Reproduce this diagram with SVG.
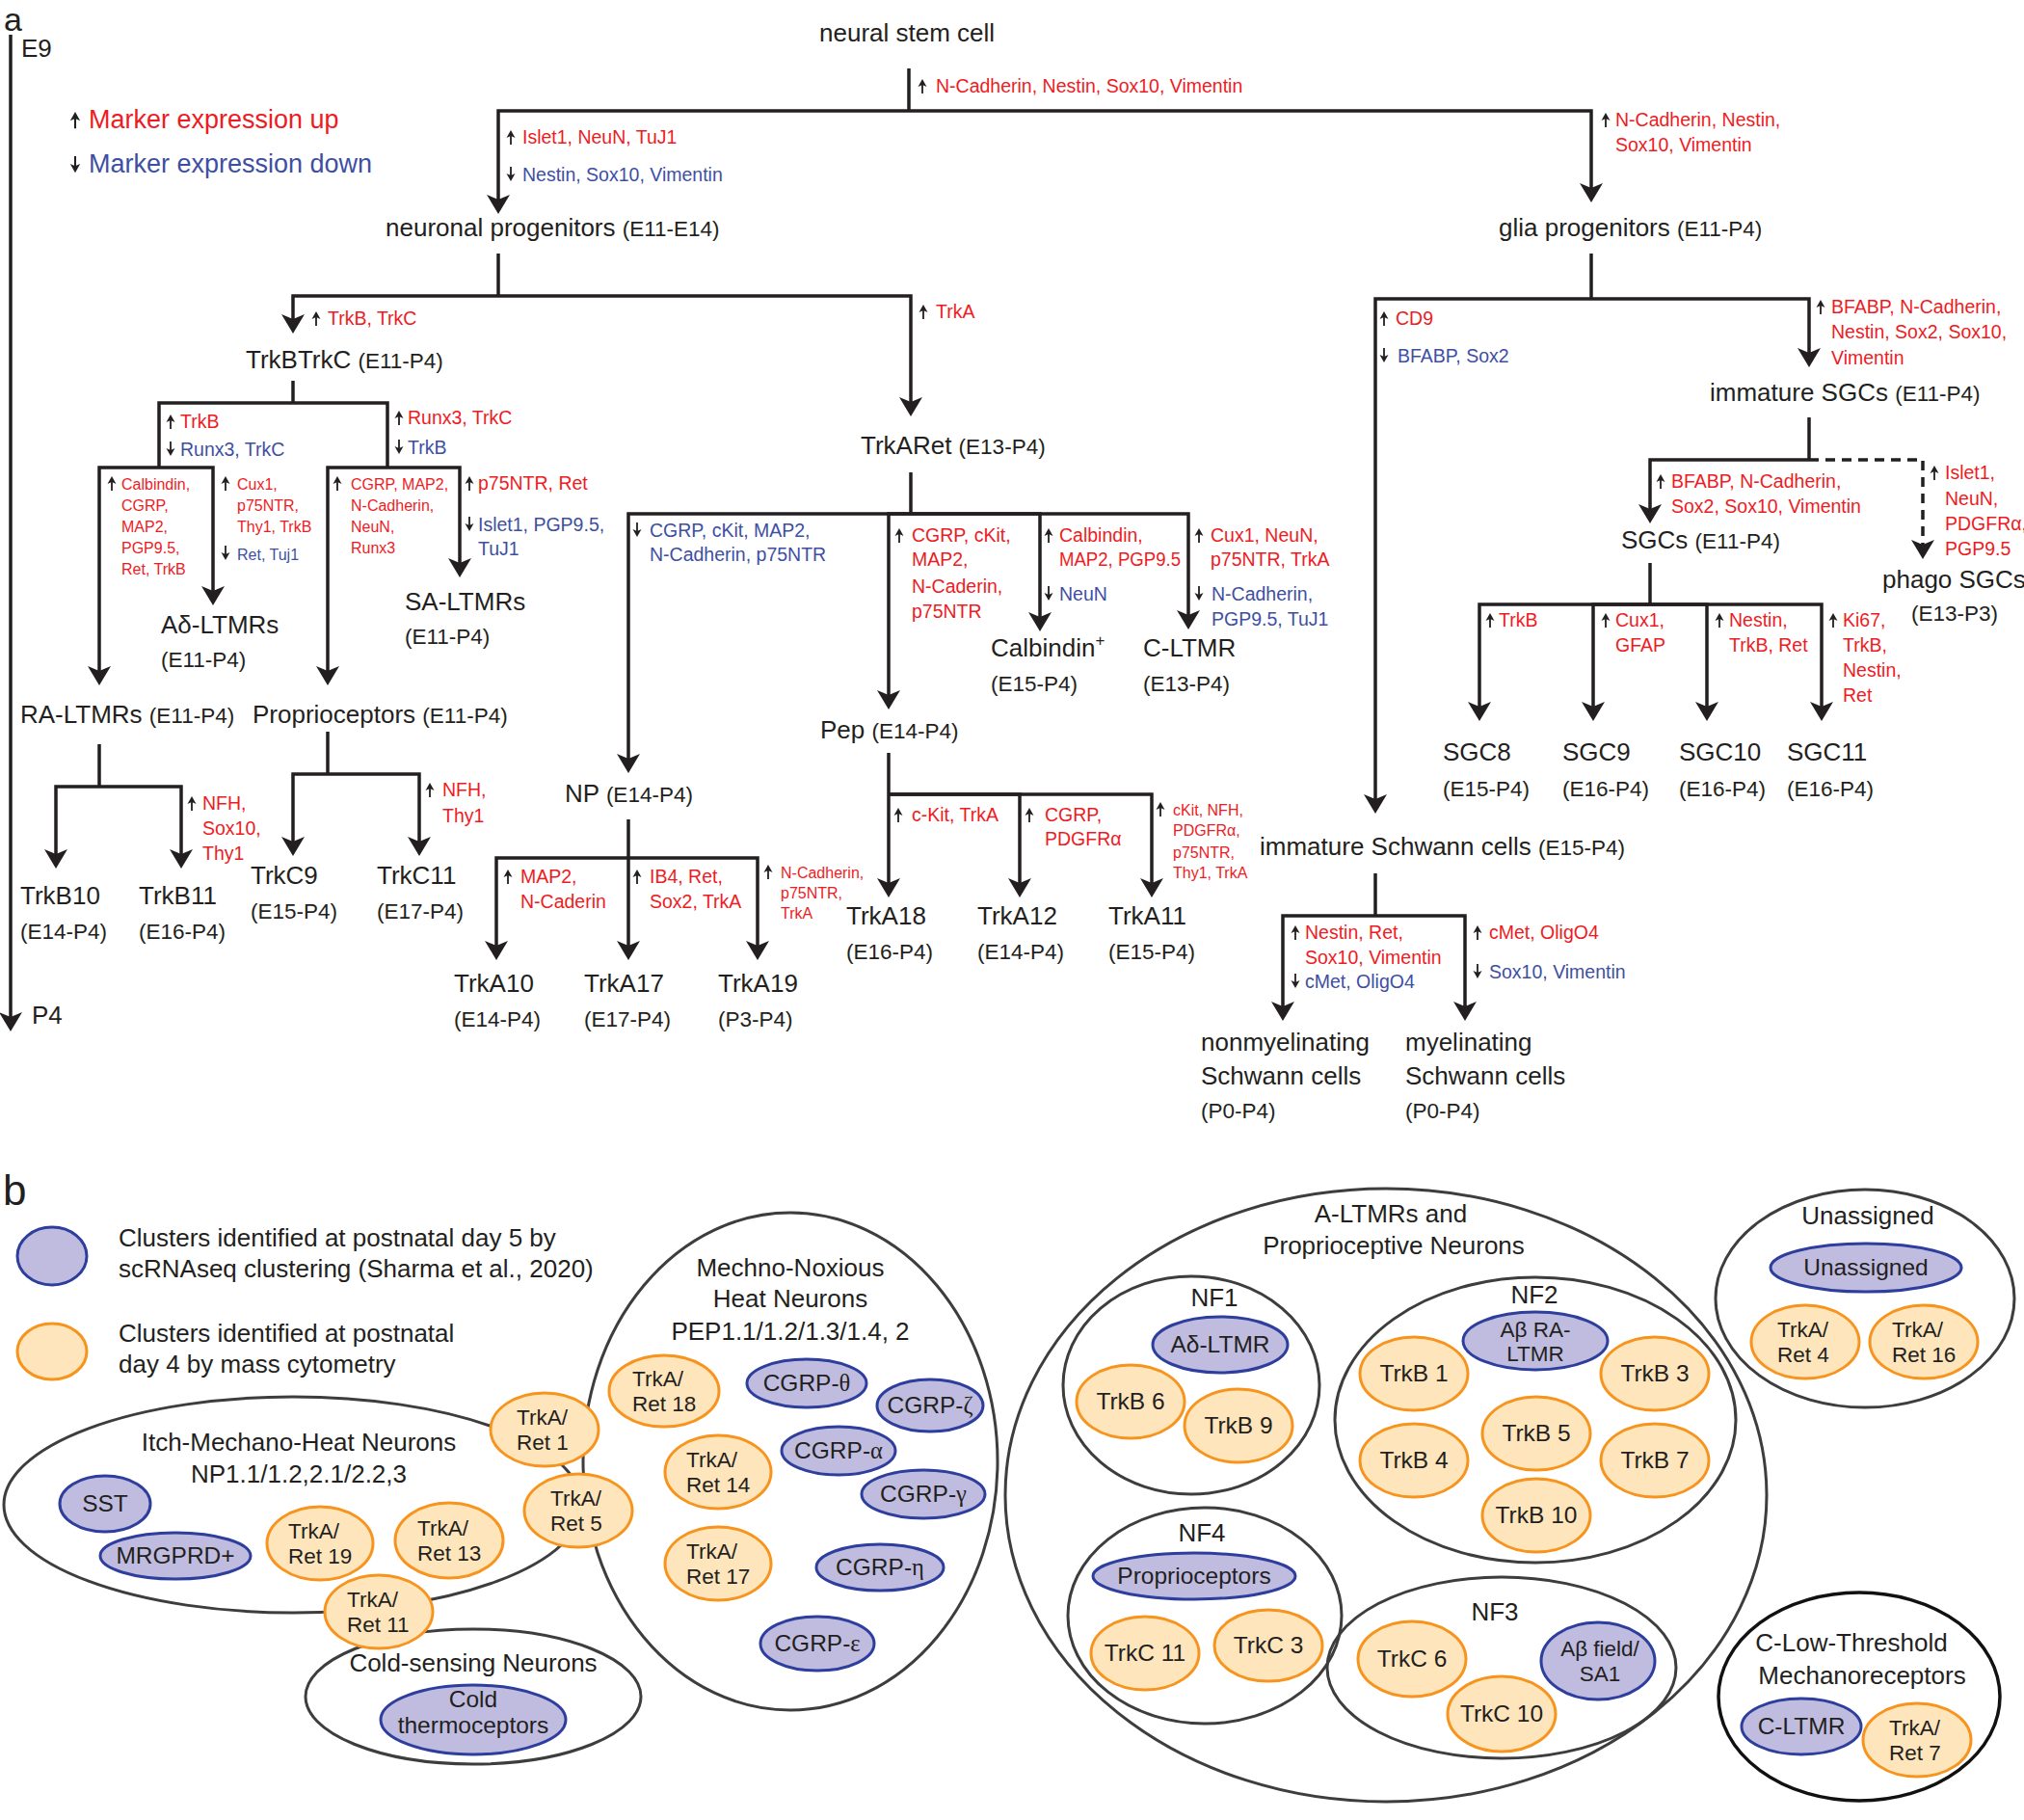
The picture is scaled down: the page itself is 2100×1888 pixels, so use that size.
<svg xmlns="http://www.w3.org/2000/svg" width="2100" height="1888" viewBox="0 0 2100 1888">
<style>
text{font-family:"Liberation Sans",Arial,sans-serif;fill:#231F20}
.n{font-size:26px}
.e{font-size:22.5px}
.r{fill:#ED1C24;font-size:19.5px}
.b{fill:#3E4FA3;font-size:19.5px}
.s{font-size:16px}
.c{stroke:#231F20;stroke-width:3.5;fill:none}
.ar{marker-end:url(#ah)}
.d{stroke-dasharray:10 7}
.big{fill:none;stroke:#3D3D3D;stroke-width:3}
.blk{fill:none;stroke:#111;stroke-width:3.5}
.pu{fill:#BFBCE0;stroke:#2E3E9C;stroke-width:3}
.or{fill:#FEE5BB;stroke:#F7941D;stroke-width:3}
.t{font-size:26px;text-anchor:middle}
.k{font-size:24.5px}
.k2{font-size:22.5px}
.m{text-anchor:middle}
.g{font-family:"Liberation Serif","Times New Roman",serif}
</style>
<defs>
<marker id="ah" viewBox="0 0 20 24" refX="12" refY="12" markerWidth="20" markerHeight="24" markerUnits="userSpaceOnUse" orient="auto"><path d="M0,0 L20,12 L0,24 L5,12 Z" fill="#231F20"/></marker>
<g id="ua"><path d="M0,4 V15" stroke="#231F20" stroke-width="1.8"/><path d="M0,0 L-4.5,8 L0,6 L4.5,8 Z" fill="#231F20"/></g>
<g id="da"><path d="M0,0 V11" stroke="#231F20" stroke-width="1.8"/><path d="M0,15 L-4.5,7 L0,9 L4.5,7 Z" fill="#231F20"/></g>
</defs>

<text x="4" y="32" font-size="34">a</text>
<text x="3" y="1250" font-size="44">b</text>

<g id="legend-a">
<use href="#ua" transform="translate(78,116) scale(1.15)"/>
<text class="r" x="92" y="133" style="font-size:27px">Marker expression up</text>
<use href="#da" transform="translate(78,162) scale(1.15)"/>
<text class="b" x="92" y="179" style="font-size:27px">Marker expression down</text>
</g>

<g id="connectors">
<path class="c ar" d="M11,36 V1062"/>
<path class="c" d="M943,71 V115"/>
<path class="c ar" d="M943,115 H517 V214"/>
<path class="c ar" d="M943,115 H1651 V202"/>
<path class="c" d="M517,263 V307"/>
<path class="c ar" d="M517,307 H304 V338"/>
<path class="c ar" d="M517,307 H945 V424"/>
<path class="c" d="M304,395 V418"/>
<path class="c" d="M304,418 H165 V485"/>
<path class="c ar" d="M165,485 H103 V703"/>
<path class="c ar" d="M165,485 H221 V620"/>
<path class="c" d="M304,418 H402 V485"/>
<path class="c ar" d="M402,485 H340 V703"/>
<path class="c ar" d="M402,485 H477 V591"/>
<path class="c" d="M103,772 V816"/>
<path class="c ar" d="M103,816 H58 V893"/>
<path class="c ar" d="M103,816 H188 V893"/>
<path class="c" d="M340,759 V803"/>
<path class="c ar" d="M340,803 H304 V880"/>
<path class="c ar" d="M340,803 H435 V880"/>
<path class="c" d="M945,490 V533"/>
<path class="c ar" d="M945,533 H652 V794"/>
<path class="c ar" d="M945,533 H922 V728"/>
<path class="c ar" d="M945,533 H1079 V647"/>
<path class="c ar" d="M945,533 H1233 V645"/>
<path class="c" d="M652,850 V890"/>
<path class="c ar" d="M652,890 H515 V988"/>
<path class="c ar" d="M652,890 V988"/>
<path class="c ar" d="M652,890 H786 V988"/>
<path class="c ar" d="M922,781 V923"/>
<path class="c ar" d="M922,824 H1058 V923"/>
<path class="c ar" d="M922,824 H1195 V923"/>
<path class="c" d="M1651,263 V310"/>
<path class="c ar" d="M1651,310 H1427 V836"/>
<path class="c ar" d="M1651,310 H1877 V373"/>
<path class="c" d="M1877,433 V477"/>
<path class="c ar" d="M1877,477 H1712 V535"/>
<path class="c d ar" d="M1877,477 H1995 V572"/>
<path class="c" d="M1712,584 V627"/>
<path class="c ar" d="M1712,627 H1535 V740"/>
<path class="c ar" d="M1712,627 H1653 V740"/>
<path class="c ar" d="M1712,627 H1771 V740"/>
<path class="c ar" d="M1712,627 H1890 V740"/>
<path class="c" d="M1427,906 V950"/>
<path class="c ar" d="M1427,950 H1331 V1051"/>
<path class="c ar" d="M1427,950 H1520 V1051"/>
</g>

<g id="edge-labels">
<use href="#ua" x="957" y="82"/><text class="r" x="971" y="96">N-Cadherin, Nestin, Sox10, Vimentin</text>
<use href="#ua" x="530" y="135"/><text class="r" x="542" y="149">Islet1, NeuN, TuJ1</text>
<use href="#da" x="530" y="173"/><text class="b" x="542" y="188">Nestin, Sox10, Vimentin</text>
<use href="#ua" x="1666" y="117"/><text class="r"><tspan x="1676" y="131">N-Cadherin, Nestin,</tspan><tspan x="1676" y="157">Sox10, Vimentin</tspan></text>
<use href="#ua" x="328" y="323"/><text class="r" x="340" y="337">TrkB, TrkC</text>
<use href="#ua" x="958" y="316"/><text class="r" x="971" y="330">TrkA</text>
<use href="#ua" x="177" y="430"/><text class="r" x="187" y="444">TrkB</text>
<use href="#da" x="177" y="458"/><text class="b" x="187" y="473">Runx3, TrkC</text>
<use href="#ua" x="414" y="426"/><text class="r" x="423" y="440">Runx3, TrkC</text>
<use href="#da" x="414" y="456"/><text class="b" x="423" y="471">TrkB</text>
<use href="#ua" x="116" y="494"/><text class="r s"><tspan x="126" y="508">Calbindin,</tspan><tspan x="126" y="530">CGRP,</tspan><tspan x="126" y="552">MAP2,</tspan><tspan x="126" y="574">PGP9.5,</tspan><tspan x="126" y="596">Ret, TrkB</tspan></text>
<use href="#ua" x="234" y="494"/><text class="r s"><tspan x="246" y="508">Cux1,</tspan><tspan x="246" y="530">p75NTR,</tspan><tspan x="246" y="552">Thy1,  TrkB</tspan></text>
<use href="#da" x="234" y="566"/><text class="b s" x="246" y="581">Ret, Tuj1</text>
<use href="#ua" x="350" y="494"/><text class="r s"><tspan x="364" y="508">CGRP, MAP2,</tspan><tspan x="364" y="530">N-Cadherin,</tspan><tspan x="364" y="552">NeuN,</tspan><tspan x="364" y="574">Runx3</tspan></text>
<use href="#ua" x="487" y="494"/><text class="r" x="496" y="508">p75NTR, Ret</text>
<use href="#da" x="487" y="536"/><text class="b"><tspan x="496" y="551">Islet1, PGP9.5,</tspan><tspan x="496" y="576">TuJ1</tspan></text>
<use href="#da" x="661" y="542"/><text class="b"><tspan x="674" y="557">CGRP, cKit, MAP2,</tspan><tspan x="674" y="582">N-Cadherin, p75NTR</tspan></text>
<use href="#ua" x="933" y="548"/><text class="r"><tspan x="946" y="562">CGRP, cKit,</tspan><tspan x="946" y="587">MAP2,</tspan><tspan x="946" y="615">N-Caderin,</tspan><tspan x="946" y="641">p75NTR</tspan></text>
<use href="#ua" x="1088" y="548"/><text class="r"><tspan x="1099" y="562">Calbindin,</tspan><tspan x="1099" y="587" textLength="126" lengthAdjust="spacingAndGlyphs">MAP2, PGP9.5</tspan></text>
<use href="#da" x="1088" y="608"/><text class="b" x="1099" y="623">NeuN</text>
<use href="#ua" x="1244" y="548"/><text class="r"><tspan x="1256" y="562">Cux1, NeuN,</tspan><tspan x="1256" y="587">p75NTR, TrkA</tspan></text>
<use href="#da" x="1244" y="608"/><text class="b"><tspan x="1257" y="623">N-Cadherin,</tspan><tspan x="1257" y="649">PGP9.5, TuJ1</tspan></text>
<use href="#ua" x="199" y="826"/><text class="r"><tspan x="210" y="840">NFH,</tspan><tspan x="210" y="866">Sox10,</tspan><tspan x="210" y="892">Thy1</tspan></text>
<use href="#ua" x="446" y="812"/><text class="r"><tspan x="459" y="826">NFH,</tspan><tspan x="459" y="853">Thy1</tspan></text>
<use href="#ua" x="527" y="902"/><text class="r"><tspan x="540" y="916">MAP2,</tspan><tspan x="540" y="942">N-Caderin</tspan></text>
<use href="#ua" x="661" y="902"/><text class="r"><tspan x="674" y="916">IB4, Ret,</tspan><tspan x="674" y="942">Sox2, TrkA</tspan></text>
<use href="#ua" x="797" y="897"/><text class="r s"><tspan x="810" y="911">N-Cadherin,</tspan><tspan x="810" y="932">p75NTR,</tspan><tspan x="810" y="953">TrkA</tspan></text>
<use href="#ua" x="932" y="838"/><text class="r" x="946" y="852">c-Kit, TrkA</text>
<use href="#ua" x="1068" y="838"/><text class="r"><tspan x="1084" y="852">CGRP,</tspan><tspan x="1084" y="877">PDGFRα</tspan></text>
<use href="#ua" x="1204" y="832"/><text class="r s"><tspan x="1217" y="846">cKit, NFH,</tspan><tspan x="1217" y="867">PDGFRα,</tspan><tspan x="1217" y="890">p75NTR,</tspan><tspan x="1217" y="911">Thy1, TrkA</tspan></text>
<use href="#ua" x="1436" y="323"/><text class="r" x="1448" y="337">CD9</text>
<use href="#da" x="1436" y="361"/><text class="b" x="1450" y="376">BFABP, Sox2</text>
<use href="#ua" x="1889" y="311"/><text class="r"><tspan x="1900" y="325">BFABP, N-Cadherin,</tspan><tspan x="1900" y="351">Nestin, Sox2, Sox10,</tspan><tspan x="1900" y="378">Vimentin</tspan></text>
<use href="#ua" x="1723" y="492"/><text class="r"><tspan x="1734" y="506">BFABP, N-Cadherin,</tspan><tspan x="1734" y="532">Sox2, Sox10, Vimentin</tspan></text>
<use href="#ua" x="2007" y="483"/><text class="r"><tspan x="2018" y="497">Islet1,</tspan><tspan x="2018" y="524">NeuN,</tspan><tspan x="2018" y="550">PDGFRα,</tspan><tspan x="2018" y="576">PGP9.5</tspan></text>
<use href="#ua" x="1546" y="636"/><text class="r" x="1555" y="650">TrkB</text>
<use href="#ua" x="1666" y="636"/><text class="r"><tspan x="1676" y="650">Cux1,</tspan><tspan x="1676" y="676">GFAP</tspan></text>
<use href="#ua" x="1784" y="636"/><text class="r"><tspan x="1794" y="650">Nestin,</tspan><tspan x="1794" y="676">TrkB, Ret</tspan></text>
<use href="#ua" x="1902" y="636"/><text class="r"><tspan x="1912" y="650">Ki67,</tspan><tspan x="1912" y="676">TrkB,</tspan><tspan x="1912" y="702">Nestin,</tspan><tspan x="1912" y="728">Ret</tspan></text>
<use href="#ua" x="1344" y="960"/><text class="r"><tspan x="1354" y="974">Nestin, Ret,</tspan><tspan x="1354" y="1000">Sox10, Vimentin</tspan></text>
<use href="#da" x="1344" y="1010"/><text class="b" x="1354" y="1025">cMet, OligO4</text>
<use href="#ua" x="1533" y="960"/><text class="r" x="1545" y="974">cMet, OligO4</text>
<use href="#da" x="1533" y="1000"/><text class="b" x="1545" y="1015">Sox10, Vimentin</text>
</g>

<g id="nodes-a">
<g id="n-e9"><text class="n" x="22" y="59">E9</text></g>
<g id="n-p4"><text class="n" x="33" y="1062">P4</text></g>
<g id="n-nsc"><text class="n" x="850" y="43">neural stem cell</text></g>
<g id="n-neuronal"><text class="n" x="400" y="245">neuronal progenitors <tspan class="e">(E11-E14)</tspan></text></g>
<g id="n-glia"><text class="n" x="1555" y="245">glia progenitors <tspan class="e">(E11-P4)</tspan></text></g>
<g id="n-trkbtrkc"><text class="n" x="255" y="382">TrkBTrkC <tspan class="e">(E11-P4)</tspan></text></g>
<g id="n-trkaret"><text class="n" x="893" y="471">TrkARet <tspan class="e">(E13-P4)</tspan></text></g>
<g id="n-imm-sgcs"><text class="n" x="1774" y="416">immature SGCs <tspan class="e">(E11-P4)</tspan></text></g>
<g id="n-sgcs"><text class="n" x="1682" y="569">SGCs <tspan class="e">(E11-P4)</tspan></text></g>
<g id="n-phago"><text class="n" x="1953" y="610">phago SGCs</text><text class="n e" x="1983" y="644">(E13-P3)</text></g>
<g id="n-adltmr"><text class="n" x="167" y="657">Aδ-LTMRs</text><text class="n e" x="167" y="692">(E11-P4)</text></g>
<g id="n-saltmr"><text class="n" x="420" y="633">SA-LTMRs</text><text class="n e" x="420" y="668">(E11-P4)</text></g>
<g id="n-raltmr"><text class="n" x="21" y="750">RA-LTMRs <tspan class="e">(E11-P4)</tspan></text></g>
<g id="n-proprio"><text class="n" x="262" y="750">Proprioceptors <tspan class="e">(E11-P4)</tspan></text></g>
<g id="n-trkb10"><text class="n" x="21" y="938">TrkB10</text><text class="n e" x="21" y="974">(E14-P4)</text></g>
<g id="n-trkb11"><text class="n" x="144" y="938">TrkB11</text><text class="n e" x="144" y="974">(E16-P4)</text></g>
<g id="n-trkc9"><text class="n" x="260" y="917">TrkC9</text><text class="n e" x="260" y="953">(E15-P4)</text></g>
<g id="n-trkc11"><text class="n" x="391" y="917">TrkC11</text><text class="n e" x="391" y="953">(E17-P4)</text></g>
<g id="n-calb"><text class="n" x="1028" y="681">Calbindin<tspan font-size="17" dy="-11">+</tspan></text><text class="n e" x="1028" y="717">(E15-P4)</text></g>
<g id="n-cltmr"><text class="n" x="1186" y="681">C-LTMR</text><text class="n e" x="1186" y="717">(E13-P4)</text></g>
<g id="n-pep"><text class="n" x="851" y="766">Pep <tspan class="e">(E14-P4)</tspan></text></g>
<g id="n-np"><text class="n" x="586" y="832">NP <tspan class="e">(E14-P4)</tspan></text></g>
<g id="n-trka18"><text class="n" x="878" y="959">TrkA18</text><text class="n e" x="878" y="995">(E16-P4)</text></g>
<g id="n-trka12"><text class="n" x="1014" y="959">TrkA12</text><text class="n e" x="1014" y="995">(E14-P4)</text></g>
<g id="n-trka11"><text class="n" x="1150" y="959">TrkA11</text><text class="n e" x="1150" y="995">(E15-P4)</text></g>
<g id="n-trka10"><text class="n" x="471" y="1029">TrkA10</text><text class="n e" x="471" y="1065">(E14-P4)</text></g>
<g id="n-trka17"><text class="n" x="606" y="1029">TrkA17</text><text class="n e" x="606" y="1065">(E17-P4)</text></g>
<g id="n-trka19"><text class="n" x="745" y="1029">TrkA19</text><text class="n e" x="745" y="1065">(P3-P4)</text></g>
<g id="n-sgc8"><text class="n" x="1497" y="789">SGC8</text><text class="n e" x="1497" y="826">(E15-P4)</text></g>
<g id="n-sgc9"><text class="n" x="1621" y="789">SGC9</text><text class="n e" x="1621" y="826">(E16-P4)</text></g>
<g id="n-sgc10"><text class="n" x="1742" y="789">SGC10</text><text class="n e" x="1742" y="826">(E16-P4)</text></g>
<g id="n-sgc11"><text class="n" x="1854" y="789">SGC11</text><text class="n e" x="1854" y="826">(E16-P4)</text></g>
<g id="n-imm-schwann"><text class="n" x="1307" y="887">immature Schwann cells <tspan class="e">(E15-P4)</tspan></text></g>
<g id="n-nonmyel"><text class="n"><tspan x="1246" y="1090">nonmyelinating</tspan><tspan x="1246" y="1125">Schwann cells</tspan></text><text class="n e" x="1246" y="1160">(P0-P4)</text></g>
<g id="n-myel"><text class="n"><tspan x="1458" y="1090">myelinating</tspan><tspan x="1458" y="1125">Schwann cells</tspan></text><text class="n e" x="1458" y="1160">(P0-P4)</text></g>
</g>

<g id="legend-b">
<ellipse class="pu" cx="54" cy="1303" rx="36" ry="30"/>
<text font-size="26"><tspan x="123" y="1293">Clusters identified at postnatal day 5 by</tspan><tspan x="123" y="1325">scRNAseq clustering (Sharma et al., 2020)</tspan></text>
<ellipse class="or" cx="54" cy="1402" rx="36" ry="29"/>
<text font-size="26"><tspan x="123" y="1392">Clusters identified at postnatal</tspan><tspan x="123" y="1424">day 4 by mass cytometry</tspan></text>
</g>

<g id="containers">
<g id="c-itch"><ellipse class="big" cx="304" cy="1561" rx="300" ry="112"/><text class="t"><tspan x="310" y="1505">Itch-Mechano-Heat Neurons</tspan><tspan x="310" y="1538">NP1.1/1.2,2.1/2.2,3</tspan></text></g>
<g id="c-mechno"><ellipse class="big" cx="820" cy="1516" rx="215" ry="258"/><text class="t"><tspan x="820" y="1324">Mechno-Noxious</tspan><tspan x="820" y="1356">Heat Neurons</tspan><tspan x="820" y="1390">PEP1.1/1.2/1.3/1.4, 2</tspan></text></g>
<g id="c-cold"><ellipse class="big" cx="491" cy="1760" rx="174" ry="70"/><text class="t" x="491" y="1734">Cold-sensing Neurons</text></g>
<g id="c-altmr"><ellipse class="big" cx="1438" cy="1551" rx="395" ry="318"/><text class="t"><tspan x="1443" y="1268">A-LTMRs and</tspan><tspan x="1446" y="1301">Proprioceptive Neurons</tspan></text></g>
<g id="c-nf1"><ellipse class="big" cx="1236" cy="1437" rx="133" ry="113"/><text class="t" x="1260" y="1355">NF1</text></g>
<g id="c-nf4"><ellipse class="big" cx="1250" cy="1676" rx="142" ry="112"/><text class="t" x="1247" y="1599">NF4</text></g>
<g id="c-nf2"><ellipse class="big" cx="1593" cy="1473" rx="208" ry="148"/><text class="t" x="1592" y="1352">NF2</text></g>
<g id="c-nf3"><ellipse class="big" cx="1558" cy="1730" rx="181" ry="94"/><text class="t" x="1551" y="1681">NF3</text></g>
<g id="c-unassigned"><ellipse class="big" cx="1935" cy="1347" rx="155" ry="113"/><text class="t" x="1938" y="1270">Unassigned</text></g>
<g id="c-cltmr"><ellipse class="blk" cx="1929" cy="1760" rx="146" ry="108"/><text class="t"><tspan x="1921" y="1713">C-Low-Threshold</tspan><tspan x="1932" y="1747">Mechanoreceptors</tspan></text></g>
</g>

<g id="clusters">
<g id="k-sst"><ellipse class="pu" cx="109" cy="1560" rx="47" ry="29"/><text class="k m" x="109" y="1568">SST</text></g>
<g id="k-mrgprd"><ellipse class="pu" cx="182" cy="1614" rx="78" ry="24"/><text class="k m" x="182" y="1622">MRGPRD+</text></g>
<g id="k-ret19"><ellipse class="or" cx="332" cy="1601" rx="55" ry="38"/><text class="k2"><tspan x="299" y="1596">TrkA/</tspan><tspan x="299" y="1622">Ret 19</tspan></text></g>
<g id="k-ret13"><ellipse class="or" cx="466" cy="1598" rx="56" ry="39"/><text class="k2"><tspan x="433" y="1593">TrkA/</tspan><tspan x="433" y="1619">Ret 13</tspan></text></g>
<g id="k-ret11"><ellipse class="or" cx="393" cy="1672" rx="56" ry="38"/><text class="k2"><tspan x="360" y="1667">TrkA/</tspan><tspan x="360" y="1693">Ret 11</tspan></text></g>
<g id="k-ret1"><ellipse class="or" cx="565" cy="1483" rx="56" ry="38"/><text class="k2"><tspan x="536" y="1478">TrkA/</tspan><tspan x="536" y="1504">Ret 1</tspan></text></g>
<g id="k-ret5"><ellipse class="or" cx="600" cy="1567" rx="56" ry="38"/><text class="k2"><tspan x="571" y="1562">TrkA/</tspan><tspan x="571" y="1588">Ret 5</tspan></text></g>
<g id="k-cold"><ellipse class="pu" cx="491" cy="1784" rx="96" ry="36"/><text class="k m"><tspan x="491" y="1771">Cold</tspan><tspan x="491" y="1798">thermoceptors</tspan></text></g>
<g id="k-ret18"><ellipse class="or" cx="689" cy="1443" rx="57" ry="37"/><text class="k2"><tspan x="656" y="1438">TrkA/</tspan><tspan x="656" y="1464">Ret 18</tspan></text></g>
<g id="k-theta"><ellipse class="pu" cx="837" cy="1435" rx="62" ry="25"/><text class="k m" x="837" y="1443">CGRP-<tspan class="g">θ</tspan></text></g>
<g id="k-zeta"><ellipse class="pu" cx="965" cy="1458" rx="55" ry="27"/><text class="k m" x="965" y="1466">CGRP-<tspan class="g">ζ</tspan></text></g>
<g id="k-alpha"><ellipse class="pu" cx="870" cy="1505" rx="59" ry="25"/><text class="k m" x="870" y="1513">CGRP-<tspan class="g">α</tspan></text></g>
<g id="k-gamma"><ellipse class="pu" cx="958" cy="1550" rx="64" ry="25"/><text class="k m" x="958" y="1558">CGRP-<tspan class="g">γ</tspan></text></g>
<g id="k-ret14"><ellipse class="or" cx="745" cy="1527" rx="55" ry="38"/><text class="k2"><tspan x="712" y="1522">TrkA/</tspan><tspan x="712" y="1548">Ret 14</tspan></text></g>
<g id="k-ret17"><ellipse class="or" cx="745" cy="1622" rx="55" ry="38"/><text class="k2"><tspan x="712" y="1617">TrkA/</tspan><tspan x="712" y="1643">Ret 17</tspan></text></g>
<g id="k-eta"><ellipse class="pu" cx="913" cy="1626" rx="66" ry="24"/><text class="k m" x="913" y="1634">CGRP-<tspan class="g">η</tspan></text></g>
<g id="k-eps"><ellipse class="pu" cx="848" cy="1705" rx="59" ry="28"/><text class="k m" x="848" y="1713">CGRP-<tspan class="g">ε</tspan></text></g>
<g id="k-adltmr"><ellipse class="pu" cx="1266" cy="1395" rx="70" ry="29"/><text class="k m" x="1266" y="1403">Aδ-LTMR</text></g>
<g id="k-trkb6"><ellipse class="or" cx="1173" cy="1454" rx="56" ry="38"/><text class="k m" x="1173" y="1462">TrkB 6</text></g>
<g id="k-trkb9"><ellipse class="or" cx="1285" cy="1479" rx="56" ry="38"/><text class="k m" x="1285" y="1487">TrkB 9</text></g>
<g id="k-proprio"><ellipse class="pu" cx="1239" cy="1635" rx="105" ry="24"/><text class="k m" x="1239" y="1643">Proprioceptors</text></g>
<g id="k-trkc11"><ellipse class="or" cx="1188" cy="1715" rx="56" ry="38"/><text class="k m" x="1188" y="1723">TrkC 11</text></g>
<g id="k-trkc3"><ellipse class="or" cx="1316" cy="1707" rx="56" ry="37"/><text class="k m" x="1316" y="1715">TrkC 3</text></g>
<g id="k-abra"><ellipse class="pu" cx="1593" cy="1391" rx="75" ry="30"/><text class="k2 m"><tspan x="1593" y="1387">Aβ RA-</tspan><tspan x="1593" y="1412">LTMR</tspan></text></g>
<g id="k-trkb1"><ellipse class="or" cx="1467" cy="1425" rx="56" ry="38"/><text class="k m" x="1467" y="1433">TrkB 1</text></g>
<g id="k-trkb3"><ellipse class="or" cx="1717" cy="1425" rx="56" ry="38"/><text class="k m" x="1717" y="1433">TrkB 3</text></g>
<g id="k-trkb5"><ellipse class="or" cx="1594" cy="1487" rx="56" ry="38"/><text class="k m" x="1594" y="1495">TrkB 5</text></g>
<g id="k-trkb4"><ellipse class="or" cx="1467" cy="1515" rx="56" ry="38"/><text class="k m" x="1467" y="1523">TrkB 4</text></g>
<g id="k-trkb7"><ellipse class="or" cx="1717" cy="1515" rx="56" ry="38"/><text class="k m" x="1717" y="1523">TrkB 7</text></g>
<g id="k-trkb10"><ellipse class="or" cx="1594" cy="1572" rx="56" ry="38"/><text class="k m" x="1594" y="1580">TrkB 10</text></g>
<g id="k-trkc6"><ellipse class="or" cx="1465" cy="1721" rx="56" ry="39"/><text class="k m" x="1465" y="1729">TrkC 6</text></g>
<g id="k-trkc10"><ellipse class="or" cx="1558" cy="1778" rx="56" ry="39"/><text class="k m" x="1558" y="1786">TrkC 10</text></g>
<g id="k-abfield"><ellipse class="pu" cx="1658" cy="1723" rx="59" ry="40"/><text class="k2 m"><tspan x="1660" y="1718">Aβ field/</tspan><tspan x="1660" y="1744">SA1</tspan></text></g>
<g id="k-unassigned"><ellipse class="pu" cx="1936" cy="1315" rx="99" ry="25"/><text class="k m" x="1936" y="1323">Unassigned</text></g>
<g id="k-ret4"><ellipse class="or" cx="1873" cy="1392" rx="56" ry="38"/><text class="k2"><tspan x="1844" y="1387">TrkA/</tspan><tspan x="1844" y="1413">Ret 4</tspan></text></g>
<g id="k-ret16"><ellipse class="or" cx="1996" cy="1392" rx="56" ry="38"/><text class="k2"><tspan x="1963" y="1387">TrkA/</tspan><tspan x="1963" y="1413">Ret 16</tspan></text></g>
<g id="k-cltmr"><ellipse class="pu" cx="1869" cy="1791" rx="62" ry="29"/><text class="k m" x="1869" y="1799">C-LTMR</text></g>
<g id="k-ret7"><ellipse class="or" cx="1989" cy="1805" rx="56" ry="38"/><text class="k2"><tspan x="1960" y="1800">TrkA/</tspan><tspan x="1960" y="1826">Ret 7</tspan></text></g>
</g>
</svg>
